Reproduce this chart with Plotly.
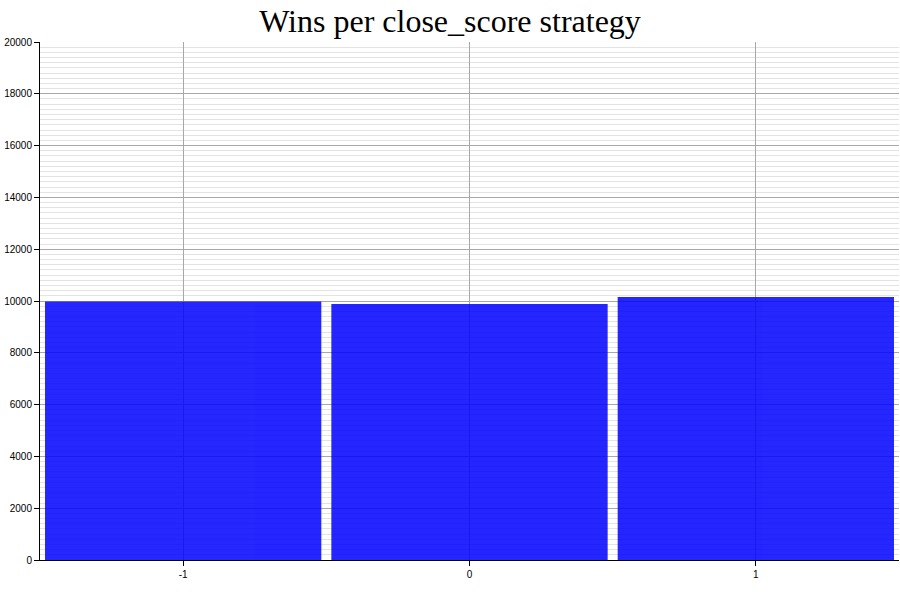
import plotly.graph_objects as go

strategies = [-1, 0, 1]
wins = [9980, 9885, 10155]

fig = go.Figure()
fig.add_trace(go.Bar(
    x=strategies,
    y=wins,
    marker=dict(color='rgb(0,0,255)', line=dict(width=0)),
    opacity=0.85,
))

fig.update_layout(
    width=900,
    height=600,
    title=dict(text='Wins per close_score strategy', x=0.5, xanchor='center',
               y=1 - 21 / 600, yanchor='middle',
               font=dict(family='Liberation Serif', size=32, color='black')),
    plot_bgcolor='white',
    paper_bgcolor='white',
    margin=dict(l=40, r=1, t=42, b=40),
    bargap=0.035,
    showlegend=False,
    font=dict(family='Liberation Sans', size=10, color='black'),
)

fig.update_xaxes(
    range=[-1.5, 1.5],
    tickmode='array',
    tickvals=strategies,
    ticktext=[str(s) for s in strategies],
    automargin=False,
    showgrid=True,
    gridcolor='#a8a8a8',
    gridwidth=1,
    showline=True,
    linecolor='black',
    linewidth=1,
    ticks='outside',
    ticklen=5,
    tickcolor='black',
    zeroline=False,
)

fig.update_yaxes(
    range=[0, 20000],
    dtick=2000,
    tickformat='d',
    automargin=False,
    showgrid=True,
    gridcolor='#a8a8a8',
    gridwidth=1,
    showline=True,
    linecolor='black',
    linewidth=1,
    ticks='outside',
    ticklen=5,
    tickcolor='black',
    zeroline=False,
    minor=dict(dtick=200, showgrid=True, gridcolor='#e3e3e3', gridwidth=1),
)

# drop the browser's default body margin so the figure fills the window
fig.write_html("out.html",
               config={'displayModeBar': False},
               post_script="document.body.style.margin='0';document.body.style.overflow='hidden';")
